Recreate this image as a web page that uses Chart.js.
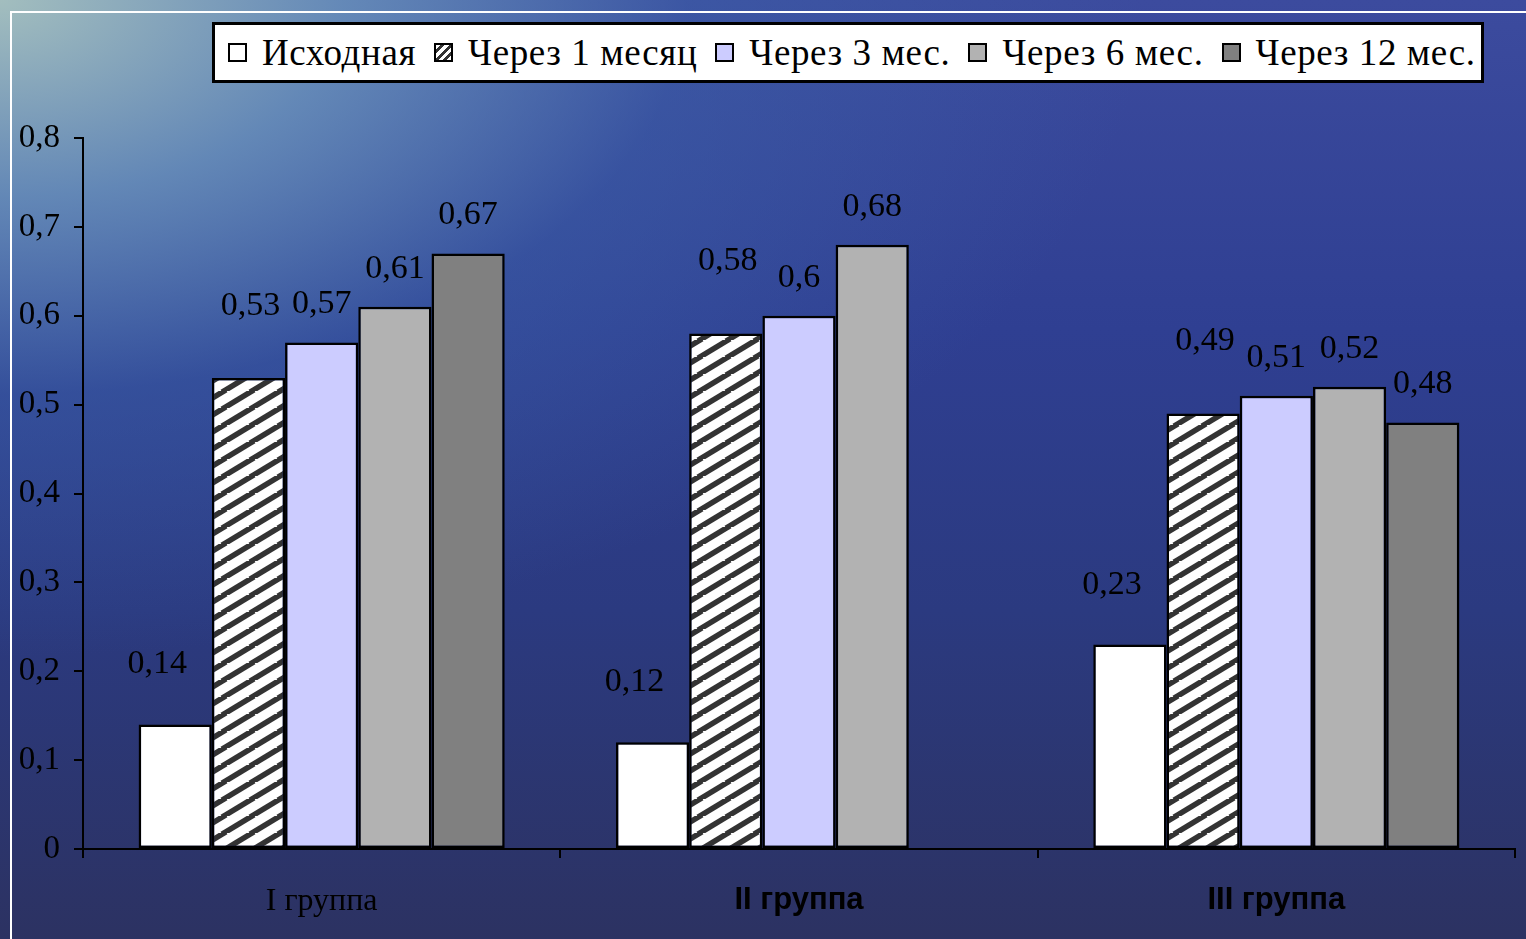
<!DOCTYPE html>
<html>
<head>
<meta charset="utf-8">
<script src="https://cdn.jsdelivr.net/npm/chart.js@4/dist/chart.umd.min.js"></script>
<style>
html, body { margin:0; padding:0; }
body {
	width:1526px; height:939px; overflow:hidden; position:relative;
	background:
		radial-gradient(ellipse 75% 70% at 0% 0%, rgba(168,196,192,0.95) 0%, rgba(110,152,190,0.8) 30%, rgba(60,100,170,0.45) 60%, rgba(0,0,0,0) 100%),
		linear-gradient(to bottom, #3c4b9e 0%, #2f3f92 35%, #2b3a80 65%, #2c3262 100%);
}
#frame { position:absolute; left:10px; top:11px; right:0; bottom:0; border-left:2px solid #fff; border-top:2px solid #fff; }
#wrap { position:absolute; left:0; top:0; width:1526px; height:939px; }
#legend {
	position:absolute; left:212px; top:22px; width:1253px; height:55px;
	background:#fff; border:3px solid #000;
	display:flex; align-items:center; padding-left:13px; box-sizing:content-box;
	font-family:"Liberation Serif","Times New Roman",serif; font-size:37px; letter-spacing:0.6px; color:#000; white-space:nowrap; overflow:hidden;
}
#legend .sw { width:15px; height:15px; border:2px solid #000; margin-right:15px; flex:none; }
#legend .it { margin-right:18px; }
</style>
</head>
<body>
<div id="frame"></div>
<div id="wrap"><canvas id="grafico" width="1526" height="939"></canvas></div>
<div id="legend"></div>
<script>
var categorias = ["I группа", "II группа", "III группа"];
var series = ["Исходная", "Через 1 месяц", "Через 3 мес.", "Через 6 мес.", "Через 12 мес."];
var ishodnaya = [0.14, 0.12, 0.23];
var mes1 = [0.53, 0.58, 0.49];
var mes3 = [0.57, 0.6, 0.51];
var mes6 = [0.61, 0.68, 0.52];
var mes12 = [0.67, null, 0.48];
var ticksY = [0, 0.1, 0.2, 0.3, 0.4, 0.5, 0.6, 0.7, 0.8];

var serif = "'Liberation Serif','Times New Roman',serif";
var sans = "'Liberation Sans',Arial,sans-serif";

function getHatch(){
	var c = document.createElement("canvas");
	c.width = 28; c.height = 17;
	var g = c.getContext("2d");
	g.fillStyle = "#fff";
	g.fillRect(0, 0, 28, 17);
	g.strokeStyle = "#333";
	g.lineWidth = 5.5;
	for(var k = -1; k <= 1; k++){
		g.beginPath();
		g.moveTo(k * 28 - 2, 17 + 1.2);
		g.lineTo(k * 28 + 30, -1.2);
		g.stroke();
	}
	return g.createPattern(c, "repeat");
}

var colores = ["#ffffff", getHatch(), "#ccccff", "#b2b2b2", "#808080"];
var swatchCss = ["#ffffff", "repeating-linear-gradient(-45deg,#fff 0 3px,#333 3px 6px)", "#ccccff", "#b2b2b2", "#808080"];
var valores = [ishodnaya, mes1, mes3, mes6, mes12];
var levanta = [60, 72, 38, 38, 38];
var corre = [-18, 2, 0, 0, 0];

var datasets = [];
for(var i = 0; i < series.length; i++){
	datasets.push({
		label: series[i],
		data: valores[i],
		backgroundColor: colores[i],
		borderColor: "#000",
		borderWidth: 2.5,
		borderSkipped: false,
		labelLift: levanta[i],
		labelShift: corre[i]
	});
}

var leyenda = document.getElementById("legend");
for(var j = 0; j < series.length; j++){
	var sw = document.createElement("div");
	sw.className = "sw";
	sw.style.background = swatchCss[j];
	var tx = document.createElement("span");
	tx.className = "it";
	tx.textContent = series[j];
	leyenda.appendChild(sw);
	leyenda.appendChild(tx);
}

var etiquetas = {
	id: "etiquetas",
	afterDatasetsDraw: function(chart){
		var ctx = chart.ctx;
		ctx.save();
		ctx.font = "34px " + serif;
		ctx.fillStyle = "#000";
		ctx.textAlign = "center";
		ctx.textBaseline = "middle";
		chart.data.datasets.forEach(function(ds, i){
			var meta = chart.getDatasetMeta(i);
			meta.data.forEach(function(el, k){
				var v = ds.data[k];
				if(v === null || v === undefined) return;
				ctx.fillText(String(v).replace(".", ","), el.x + ds.labelShift, el.y - ds.labelLift);
			});
		});
		ctx.restore();
	}
};

new Chart(document.getElementById("grafico"), {
	type: "bar",
	data: { labels: categorias, datasets: datasets },
	options: {
		responsive: false,
		animation: false,
		layout: { padding: { left: 0, right: 11, top: 138, bottom: 0 } },
		plugins: { legend: { display: false }, tooltip: { enabled: false } },
		datasets: { bar: { categoryPercentage: 0.767, barPercentage: 1 } },
		scales: {
			x: {
				grid: { offset: true, drawOnChartArea: false, color: "#000", lineWidth: 2, tickLength: 9 },
				border: { display: true, color: "#000", width: 2 },
				ticks: {
					color: "#000",
					padding: 24,
					font: function(c){
						return c.index === 0 ? { family: serif, size: 32 } : { family: sans, size: 31, weight: "bold" };
					}
				},
				afterFit: function(s){ s.height = 90; }
			},
			y: {
				min: 0, max: 0.8,
				afterBuildTicks: function(s){ s.ticks = ticksY.map(function(v){ return { value: v }; }); },
				grid: { drawOnChartArea: false, color: "#000", lineWidth: 2, tickLength: 9 },
				border: { display: true, color: "#000", width: 2 },
				ticks: {
					color: "#000",
					padding: 14,
					font: { family: serif, size: 33 },
					callback: function(v){ return v === 0 ? "0" : Number(v).toFixed(1).replace(".", ","); }
				},
				afterFit: function(s){ s.width = 83; }
			}
		}
	},
	plugins: [etiquetas]
});
</script>
</body>
</html>
